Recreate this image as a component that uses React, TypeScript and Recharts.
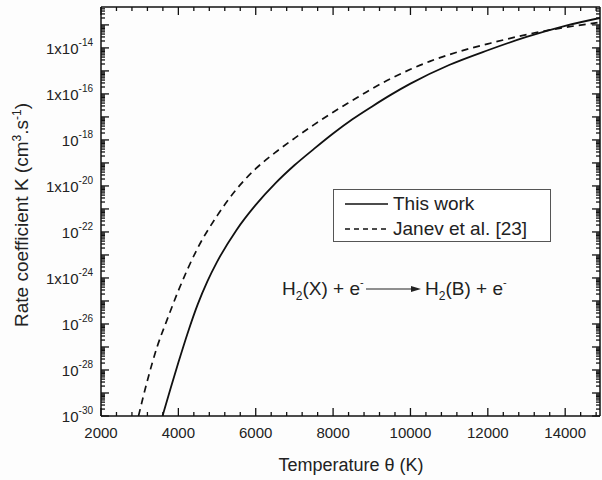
import { LineChart, Line, XAxis, YAxis, Legend } from "recharts";

// temperature (K) and rate coefficient K (cm3/s)
const thisWorkT = [3590, 3800, 4000, 4250, 4500, 4750, 5000, 5500, 6000, 6500, 7000, 7500, 8000, 8500, 9000, 9500, 10000, 11000, 12000, 13000, 14000, 14900];
const thisWorkK = [1e-30, 1.6e-29, 2.1e-28, 4.5e-27, 7.1e-26, 7.1e-25, 5.0e-24, 1.2e-22, 1.5e-21, 1.26e-20, 7.9e-20, 4.0e-19, 1.9e-18, 7.9e-18, 2.8e-17, 9.3e-17, 2.8e-16, 1.8e-15, 7.9e-15, 3.0e-14, 9.1e-14, 2.0e-13];

const janevT = [2970, 3200, 3450, 3700, 4000, 4500, 5000, 5500, 6000, 6500, 7000, 7500, 8000, 8500, 9000, 9500, 10000, 10500, 11000, 11500, 12000, 13000, 14000, 14900];
const janevK = [1e-30, 3.5e-29, 1e-27, 1.4e-26, 2.8e-25, 2.0e-23, 5.0e-22, 7.1e-21, 5.6e-20, 2.8e-19, 1.17e-18, 4.5e-18, 1.6e-17, 5.2e-17, 1.66e-16, 4.7e-16, 1.17e-15, 2.6e-15, 5.1e-15, 9.1e-15, 1.5e-14, 3.8e-14, 7.8e-14, 1.29e-13];

const seriesNames = ["This work", "Janev et al. [23]"];

// labelled decades on the y axis and how the figure writes them
const yLabelDecades = [-30, -28, -26, -24, -22, -20, -18, -16, -14];
const yLabelMantissa = ["10", "10", "10", "1x10", "10", "1x10", "10", "1x10", "1x10"];
const xLabels = [2000, 4000, 6000, 8000, 10000, 12000, 14000];

const thisWork = thisWorkT.map((t, i) => ({ t, k: thisWorkK[i] }));
const janev = janevT.map((t, i) => ({ t, k: janevK[i] }));

const yTicks: number[] = [];
for (let e = -30; e <= -13; e++) {
  for (let m = 1; m <= 9; m++) {
    const v = m * Math.pow(10, e);
    if (v <= 6e-13) yTicks.push(v);
  }
}
const xTicks: number[] = [];
for (let t = 2000; t <= 14900; t += 400) xTicks.push(t);

const font = "'Liberation Sans', Arial, sans-serif";
const ink = "#111";

function isDecade(v: number) {
  const lg = Math.log10(v);
  return Math.abs(lg - Math.round(lg)) < 1e-6;
}

function LeftTick(props: any) {
  const { x, y, payload } = props;
  const v = payload.value;
  const major = isDecade(v);
  const idx = major ? yLabelDecades.indexOf(Math.round(Math.log10(v))) : -1;
  return (
    <g>
      <line x1={x} x2={x + (major ? 8 : 4)} y1={y} y2={y} stroke={ink} strokeWidth={1.3} />
      {idx >= 0 && (
        <text x={x - 8} y={y + 6} textAnchor="end" fontSize={15} fontFamily={font} fill="#222">
          {yLabelMantissa[idx]}
          <tspan fontSize={10} dy={-8}>{String(yLabelDecades[idx])}</tspan>
        </text>
      )}
    </g>
  );
}

function RightTick(props: any) {
  const { x, y, payload } = props;
  const major = isDecade(payload.value);
  return <line x1={x} x2={x - (major ? 8 : 4)} y1={y} y2={y} stroke={ink} strokeWidth={1.3} />;
}

function BottomTick(props: any) {
  const { x, y, payload } = props;
  const v = payload.value;
  const major = v % 2000 === 0;
  return (
    <g>
      <line x1={x} x2={x} y1={y} y2={y - (major ? 8 : 4)} stroke={ink} strokeWidth={1.3} />
      {xLabels.includes(v) && (
        <text x={x} y={y + 22} textAnchor="middle" fontSize={15} fontFamily={font} fill="#222">
          {v}
        </text>
      )}
    </g>
  );
}

function TopTick(props: any) {
  const { x, y, payload } = props;
  const major = payload.value % 2000 === 0;
  return <line x1={x} x2={x} y1={y} y2={y + (major ? 8 : 4)} stroke={ink} strokeWidth={1.3} />;
}

function LegendBox() {
  return (
    <div
      style={{
        width: 216,
        height: 51,
        border: "1px solid #555",
        background: "#fff",
        fontFamily: font,
        fontSize: 19,
        color: "#222",
        boxSizing: "content-box",
      }}
    >
      {seriesNames.map((name, i) => (
        <div key={name} style={{ height: 25, display: "flex", alignItems: "center", marginTop: i === 0 ? 1 : 0 }}>
          <svg width={59} height={10} style={{ flex: "none" }}>
            <line
              x1={11}
              x2={54}
              y1={5}
              y2={5}
              stroke={ink}
              strokeWidth={1.6}
              strokeDasharray={i === 1 ? "5 4" : undefined}
            />
          </svg>
          <span>{name}</span>
        </div>
      ))}
    </div>
  );
}

const frame = { stroke: ink, strokeWidth: 1.5 };

export default function App() {
  return (
    <div style={{ position: "absolute", left: 0, top: 0, width: 602, height: 480, background: "#fdfdfd" }}>
      <LineChart width={602} height={480} margin={{ top: 6, right: 1, bottom: 0, left: 0 }}>
        <XAxis
          xAxisId="b"
          dataKey="t"
          type="number"
          domain={[2000, 14900]}
          allowDataOverflow
          ticks={xTicks}
          interval={0}
          height={64}
          tickSize={0}
          tickMargin={0}
          tickLine={false}
          tick={<BottomTick />}
          axisLine={frame}
        />
        <XAxis
          xAxisId="t"
          dataKey="t"
          orientation="top"
          type="number"
          domain={[2000, 14900]}
          allowDataOverflow
          ticks={xTicks}
          interval={0}
          height={1}
          tickSize={0}
          tickMargin={0}
          tickLine={false}
          tick={<TopTick />}
          axisLine={frame}
        />
        <YAxis
          yAxisId="l"
          type="number"
          scale="log"
          domain={[1e-30, 6e-13]}
          allowDataOverflow
          ticks={yTicks}
          interval={0}
          width={101}
          tickSize={0}
          tickMargin={0}
          tickLine={false}
          tick={<LeftTick />}
          axisLine={frame}
        />
        <YAxis
          yAxisId="r"
          orientation="right"
          type="number"
          scale="log"
          domain={[1e-30, 6e-13]}
          allowDataOverflow
          ticks={yTicks}
          interval={0}
          width={1}
          tickSize={0}
          tickMargin={0}
          tickLine={false}
          tick={<RightTick />}
          axisLine={frame}
        />
        <Legend
          layout="vertical"
          align="center"
          verticalAlign="middle"
          content={<LegendBox />}
          wrapperStyle={{ position: "absolute", left: 333, top: 189, width: 218, height: 53 }}
        />
        {/* invisible series so the top and right frame axes get their scales */}
        <Line
          xAxisId="t"
          yAxisId="r"
          data={thisWork}
          dataKey="k"
          stroke="none"
          dot={false}
          legendType="none"
          isAnimationActive={false}
        />
        <Line
          xAxisId="b"
          yAxisId="l"
          data={janev}
          dataKey="k"
          name={seriesNames[1]}
          type="monotone"
          stroke={ink}
          strokeWidth={1.7}
          strokeDasharray="7 5"
          dot={false}
          isAnimationActive={false}
        />
        <Line
          xAxisId="b"
          yAxisId="l"
          data={thisWork}
          dataKey="k"
          name={seriesNames[0]}
          type="monotone"
          stroke={ink}
          strokeWidth={1.8}
          dot={false}
          isAnimationActive={false}
        />
      </LineChart>
      <svg
        width={602}
        height={480}
        style={{ position: "absolute", left: 0, top: 0, pointerEvents: "none" }}
        fontFamily={font}
        fill="#222"
      >
        <text transform="translate(28,215) rotate(-90)" textAnchor="middle" fontSize={19}>
          Rate coefficient K (cm
          <tspan fontSize={12} dy={-7}>3</tspan>
          <tspan dy={7}>.s</tspan>
          <tspan fontSize={12} dy={-7}>-1</tspan>
          <tspan dy={7}>)</tspan>
        </text>
        <text x={351} y={471} textAnchor="middle" fontSize={18}>
          Temperature θ (K)
        </text>
        <text x={282} y={295} fontSize={19}>
          H<tspan fontSize={12} dy={5}>2</tspan>
          <tspan dy={-5}>(X) + e</tspan>
          <tspan fontSize={11} dy={-9}>-</tspan>
        </text>
        <line x1={366} x2={413} y1={289} y2={289} stroke="#222" strokeWidth={1.2} />
        <polygon points="421,289 411,286 411,292" fill="#222" />
        <text x={425} y={295} fontSize={19}>
          H<tspan fontSize={12} dy={5}>2</tspan>
          <tspan dy={-5}>(B) + e</tspan>
          <tspan fontSize={11} dy={-9}>-</tspan>
        </text>
      </svg>
    </div>
  );
}
